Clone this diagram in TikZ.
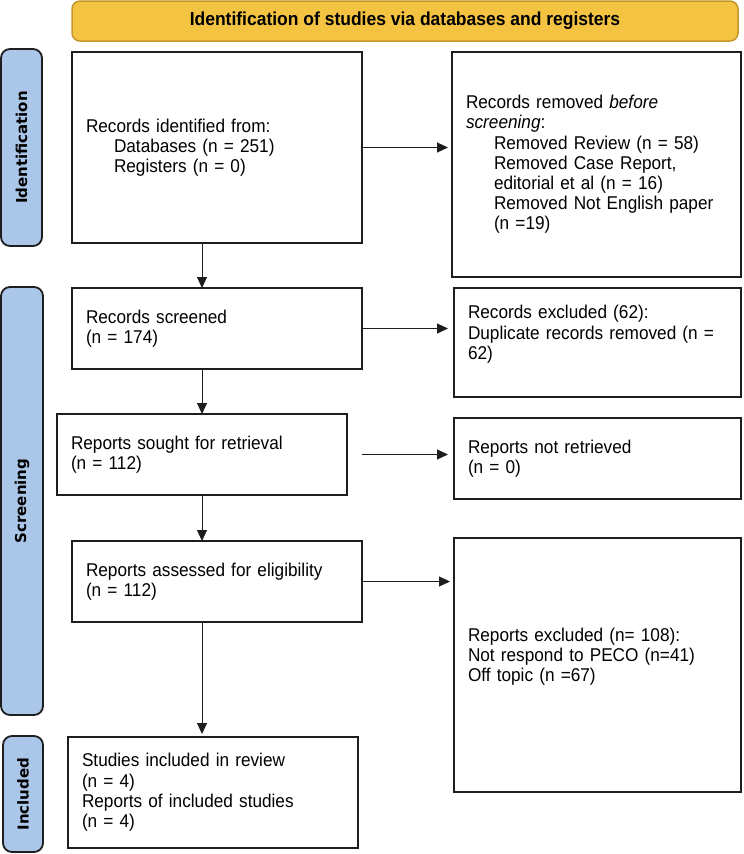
\documentclass[tikz,border=0pt]{standalone}
\usepackage{fontspec}
\setmainfont{Liberation Sans}[FakeStretch=0.93]
\newfontfamily\sidefont{DejaVu Sans}
\usetikzlibrary{arrows.meta}
\definecolor{hdrfill}{RGB}{245,195,66}
\definecolor{hdrdraw}{RGB}{196,150,40}
\definecolor{sidefill}{RGB}{170,198,232}
\definecolor{boxdraw}{RGB}{30,30,30}
\begin{document}
\begin{tikzpicture}[x=1pt,y=-1pt,
  box/.style={draw=boxdraw, line width=2pt, fill=white, anchor=north west, outer sep=0pt,
    inner xsep=14pt, inner ysep=0pt, align=left, font=\fontsize{18.5}{20.2}\selectfont},
  side/.style={draw=boxdraw, line width=1.8pt, fill=sidefill, rounded corners=9pt,
    anchor=north west, outer sep=0pt},
  sidetext/.style={rotate=90, font=\sidefont\bfseries\fontsize{15}{18}\selectfont},
  arr/.style={line width=1pt, draw=boxdraw, -{Triangle[length=11pt,width=10pt]}}]
\useasboundingbox (0,0) rectangle (744,854);

% header
\node[draw=hdrdraw, fill=hdrfill, line width=1.5pt, rounded corners=8pt,
  minimum width=666pt, minimum height=40pt, anchor=north west, outer sep=0pt,
  font=\bfseries\fontsize{18.8}{20}\selectfont] (hdr) at (72,1)
  {Identification of studies via databases and registers};

% side labels
\node[side, minimum width=41pt, minimum height=197pt] (sideA) at (1,49) {};
\node[sidetext] (sideAt) at (sideA.center) {Identification};
\node[side, minimum width=42pt, minimum height=428pt] (sideB) at (1,287) {};
\node[sidetext] (sideBt) at (sideB.center) {Screening};
\node[side, minimum width=40pt, minimum height=116pt] (sideC) at (3,736) {};
\node[sidetext] (sideCt) at (sideC.center) {Included};

% boxes
\node[box, minimum height=191pt, text width=262pt] (idf) at (72,52)
  {Records identified from:\\
   \hspace*{28pt}Databases (n = 251)\\
   \hspace*{28pt}Registers (n = 0)};
\node[box, minimum height=225pt, text width=261pt] (rem) at (452,52)
  {Records removed \textit{before}\\
   \textit{screening}:\\
   \hspace*{28pt}Removed Review (n = 58)\\
   \hspace*{28pt}Removed Case Report,\\
   \hspace*{28pt}editorial et al (n = 16)\\
   \hspace*{28pt}Removed Not English paper\\
   \hspace*{28pt}(n =19)};
\node[box, minimum height=109pt, text width=259pt] (exc) at (454,288)
  {Records excluded (62):\\Duplicate records removed (n =\\62)\\\mbox{}};
\node[box, minimum height=81pt, text width=262pt] (scr) at (72,288)
  {Records screened\\(n = 174)};
\node[box, minimum height=81pt, text width=262pt] (sou) at (57,414)
  {Reports sought for retrieval\\(n = 112)};
\node[box, minimum height=81pt, text width=259pt] (nret) at (454,418)
  {Reports not retrieved\\(n = 0)};
\node[box, minimum height=81pt, text width=262pt] (ass) at (72,541)
  {Reports assessed for eligibility\\(n = 112)};
\node[box, minimum height=254pt, text width=259pt] (rex) at (454,538)
  {Reports excluded (n= 108):\\Not respond to PECO (n=41)\\Off topic (n =67)\\\mbox{}};
\node[box, minimum height=111pt, text width=262pt] (inc) at (68,737)
  {Studies included in review\\(n = 4)\\Reports of included studies\\(n = 4)};

% horizontal arrows
\draw[arr, shorten >=4pt] (idf.east) -- (idf.east -| rem.west);
\draw[arr, shorten >=6pt] (scr.east) -- (scr.east -| exc.west);
\draw[arr, shorten >=6pt] (sou.east -| scr.east) -- (sou.east -| nret.west);
\draw[arr, shorten >=4pt] (ass.east) -- (ass.east -| rex.west);

% vertical arrows
\draw[arr] (idf.south -| sou.north) -- (scr.north -| sou.north);
\draw[arr] (scr.south -| sou.north) -- (sou.north);
\draw[arr] (sou.south) -- (ass.north -| sou.south);
\draw[arr, shorten >=3pt] (ass.south -| sou.south) -- (inc.north -| sou.south);
\end{tikzpicture}
\end{document}
